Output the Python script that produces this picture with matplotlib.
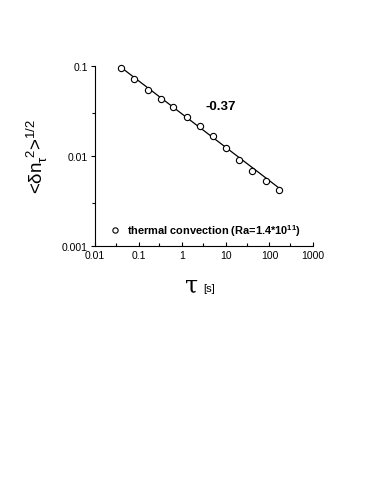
import matplotlib
matplotlib.use('Agg')
import matplotlib.pyplot as plt
import numpy as np
from matplotlib.ticker import FixedLocator, NullFormatter

plt.rcParams['font.family'] = ['Liberation Sans', 'DejaVu Sans']
plt.rcParams['mathtext.default'] = 'regular'

# data
tau = [0.04, 0.08, 0.16, 0.32, 0.63, 1.28, 2.6, 5.1, 10.3, 20.4, 40.6, 82, 164]
dn = [0.096, 0.0717, 0.0537, 0.0434, 0.035, 0.0271, 0.0214, 0.0166,
      0.0123, 0.0091, 0.0068, 0.0053, 0.0042]
slope = -0.37
amp = 0.0292  # value of the fitted line at tau = 1
fit_range = [0.04, 164]

xticks = [0.01, 0.1, 1, 10, 100, 1000]
xtick_labels = ['0.01', '0.1', '1', '10', '100', '1000']
yticks = [0.001, 0.01, 0.1]
ytick_labels = ['0.001', '0.01', '0.1']

fig = plt.figure(figsize=(3.74, 4.89), dpi=100)
ax = fig.add_axes([0.254, 0.495, 0.583, 0.368])

tt = np.array(fit_range)
ax.plot(tt, amp * tt ** slope, color='black', lw=0.9, zorder=2)
ax.plot(tau, dn, 'o', mfc='white', mec='black', mew=0.8, ms=4.5,
        clip_on=False, zorder=3,
        label=r'thermal convection (Ra=1.4*10$^{11}$)')

ax.set_xscale('log')
ax.set_yscale('log')
ax.set_xlim(0.01, 1000)
ax.set_ylim(0.001, 0.1)

ax.xaxis.set_major_locator(FixedLocator(xticks))
ax.set_xticklabels(xtick_labels)
ax.xaxis.set_minor_locator(FixedLocator([3 * v for v in xticks[:-1]]))
ax.xaxis.set_minor_formatter(NullFormatter())
ax.yaxis.set_major_locator(FixedLocator(yticks))
ax.set_yticklabels(ytick_labels)
ax.yaxis.set_minor_locator(FixedLocator([3 * v for v in yticks[:-1]]))
ax.yaxis.set_minor_formatter(NullFormatter())

ax.tick_params(axis='x', which='both', direction='in', labelsize=7.5, pad=3)
ax.tick_params(axis='x', which='major', length=3, width=0.8)
ax.tick_params(axis='x', which='minor', length=2, width=0.8)
ax.tick_params(axis='y', which='both', direction='out', labelsize=7.5, pad=2)
ax.tick_params(axis='y', which='major', length=3, width=0.8)
ax.tick_params(axis='y', which='minor', length=2, width=0.8)

for s in ['top', 'right']:
    ax.spines[s].set_visible(False)
for s in ['left', 'bottom']:
    ax.spines[s].set_linewidth(0.8)

ax.text(0.575, 0.78, '-0.37', transform=ax.transAxes, fontsize=9.5,
        fontweight='bold', ha='center', va='center')

leg = ax.legend(loc='lower left', bbox_to_anchor=(0.04, 0.02), frameon=False,
                prop={'size': 7.9, 'weight': 'bold'}, handletextpad=0.5,
                handlelength=1.2, borderaxespad=0, markerscale=0.85)

ax.set_ylabel(r'<$\delta$n$_\tau^{\ 2}$>$^{1/2}$', fontsize=13.5, labelpad=9)

fig.text(0.513, 0.415, '\u03c4', fontsize=17, family='DejaVu Serif',
         ha='center', va='center')
fig.text(0.543, 0.408, '[s]', fontsize=8, ha='left', va='center')

fig.savefig('out.png', dpi=100)
